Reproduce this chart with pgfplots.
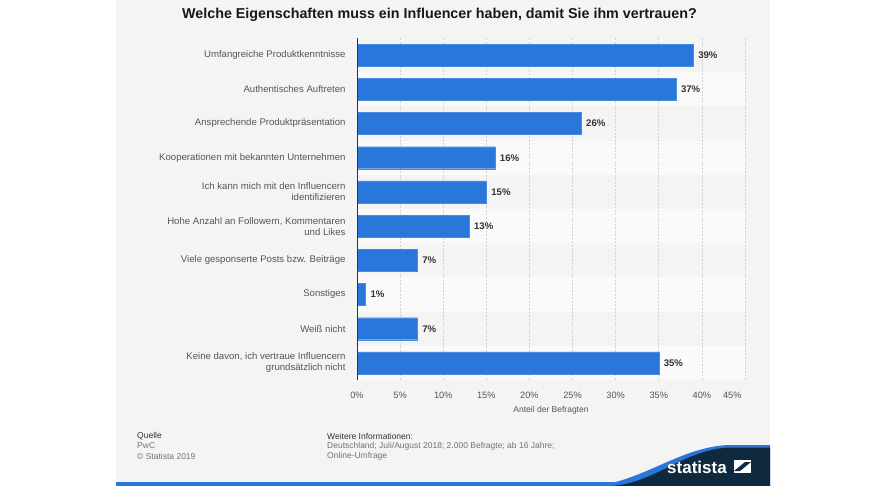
\documentclass[border=0pt]{standalone}
\usepackage{pgfplots}
\pgfplotsset{compat=1.18}
\usepackage{fontspec}
\setmainfont{Liberation Sans}
\definecolor{card}{HTML}{F4F4F4}
\definecolor{stripe}{HTML}{FAFAFA}
\definecolor{barblue}{HTML}{2A77DC}
\definecolor{navy}{HTML}{0F2A3F}
\definecolor{txt}{HTML}{555555}
\definecolor{dark}{HTML}{333333}
\definecolor{gridc}{HTML}{D2D2D2}
\begin{document}
\begin{tikzpicture}
\begin{scope}[x=1bp,y=-1bp]
\fill[white] (0,0) rectangle (888,486);
\path[use as bounding box] (0,0) rectangle (888,486);
\fill[card] (116,0) rectangle (770,484);
\foreach \r in {1,3,5,7,9} {\fill[stripe] (357,{38+34.2*\r}) rectangle (745,{38+34.2*(\r+1)});}
\node[font=\fontsize{14.3bp}{16bp}\selectfont\bfseries, text=black!90] at (439.5,15) {Welche Eigenschaften muss ein Influencer haben, damit Sie ihm vertrauen?};
\end{scope}
\begin{axis}[
  at={(357bp,-38bp)}, anchor=north west,
  scale only axis, width=388bp, height=342bp,
  xbar, bar width=22bp,
  xmin=0, xmax=45, ymin=-0.5, ymax=9.5, y dir=reverse,
  ytick={0,...,9},
  yticklabels={Umfangreiche Produktkenntnisse, Authentisches Auftreten, Ansprechende Produktpräsentation, Kooperationen mit bekannten Unternehmen, Ich kann mich mit den Influencern\\identifizieren, {Hohe Anzahl an Followern, Kommentaren\\und Likes}, Viele gesponserte Posts bzw. Beiträge, Sonstiges, Weiß nicht, {Keine davon, ich vertraue Influencern\\grundsätzlich nicht}},
  yticklabel style={font=\fontsize{9.6bp}{11bp}\selectfont, text=txt, align=right, xshift=-8bp},
  xtick={0,5,...,40},
  extra x ticks={45},
  extra x tick style={grid=major, xticklabel style={anchor=north east}},
  xticklabel={\pgfmathprintnumber{\tick}\%},
  /pgf/number format/assume math mode=true,
  xticklabel style={font=\fontsize{9.2bp}{11bp}\selectfont, text=txt, yshift=-9bp},
  major tick length=0pt,
  xmajorgrids, major grid style={gridc, dash pattern=on 2bp off 1.5bp, line width=0.6bp},
  axis line style={draw=none},
  xlabel={Anteil der Befragten},
  xlabel style={font=\fontsize{8.5bp}{10bp}\selectfont, text=txt, yshift=0bp},
  nodes near coords={\pgfmathprintnumber[fixed,precision=0]{\pgfplotspointmeta}\%},
  point meta=x,
  nodes near coords style={font=\fontsize{9.6bp}{11bp}\selectfont\bfseries, text=dark, anchor=west, xshift=1.5bp},
]
\addplot[fill=barblue, draw=barblue!85!white, line width=0.4bp] coordinates {(39,0) (37,1) (26,2) (16,3) (15,4) (13,5) (7,6) (1,7) (7,8) (35,9)};
\draw[dark, line width=1.3bp] (rel axis cs:0,0) -- (rel axis cs:0,1);
\end{axis}
\begin{scope}[x=1bp,y=-1bp]
\begin{scope}[font=\fontsize{8.5bp}{10bp}\selectfont]
\node[anchor=west, text=dark, inner sep=0] at (137,436) {Quelle};
\node[anchor=west, text=black!55, inner sep=0] at (137,446) {PwC};
\node[anchor=west, text=black!55, inner sep=0] at (137,456) {© Statista 2019};
\node[anchor=west, text=dark, inner sep=0] at (327,436) {Weitere Informationen:};
\node[anchor=west, text=black!55, inner sep=0] at (327,446) {Deutschland; Juli/August 2018; 2.000 Befragte; ab 16 Jahre;};
\node[anchor=west, text=black!55, inner sep=0] at (327,456) {Online-Umfrage};
\end{scope}
\fill[barblue] (116,482) rectangle (770,486);
\fill[barblue] (590,486) .. controls (640,484) and (680,446) .. (730,445) -- (770,445) -- (770,486) -- cycle;
\fill[navy] (610,486) .. controls (655,484) and (685,448) .. (732,447.5) -- (770,447.5) -- (770,486) -- cycle;
\fill[navy] (650,484) rectangle (770,486);
\node[text=white, font=\fontsize{17bp}{18bp}\selectfont\bfseries, inner sep=0, anchor=west] at (667,467) {statista};
\fill[white] (734,460) rectangle (751,473);
\fill[navy] (734,471) -- (745,462) -- (751,462) -- (740,471) -- cycle;
\end{scope}
\end{tikzpicture}
\end{document}
